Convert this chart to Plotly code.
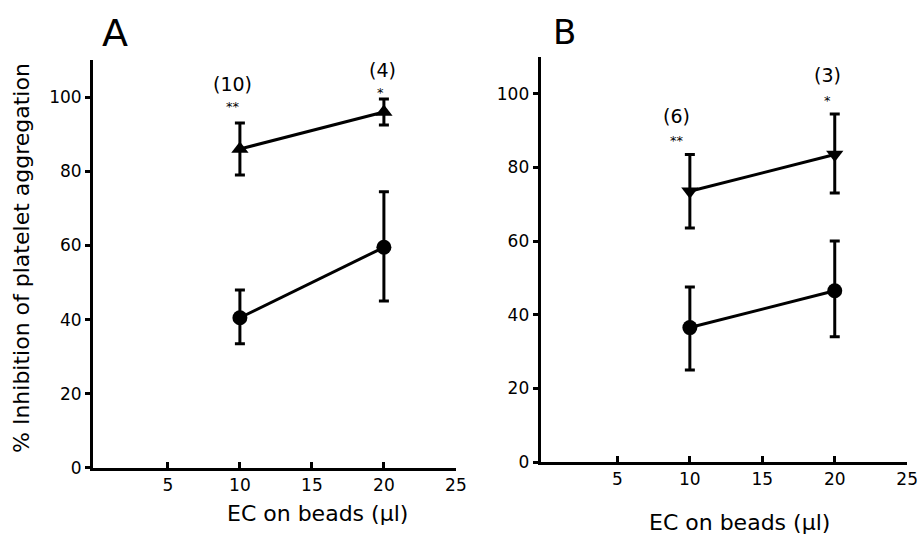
import plotly.graph_objects as go

# Data
x_vals = [10, 20]
# Panel A
a_tri = [86, 96]
a_tri_hi = [93, 99.5]
a_tri_lo = [79, 92.5]
a_circ = [40.5, 59.5]
a_circ_hi = [48, 74.5]
a_circ_lo = [33.5, 45]
a_n = ["(10)", "(4)"]
a_sig = ["**", "*"]
# Panel B
b_tri = [73.5, 83.5]
b_tri_hi = [83.5, 94.5]
b_tri_lo = [63.5, 73]
b_circ = [36.5, 46.5]
b_circ_hi = [47.5, 60]
b_circ_lo = [25, 34]
b_n = ["(6)", "(3)"]
b_sig = ["**", "*"]

x_ticks = [5, 10, 15, 20, 25]
y_ticks = [0, 20, 40, 60, 80, 100]

FONT = "DejaVu Sans, Liberation Sans, Arial, sans-serif"

def err(mean, hi, lo):
    return dict(type="data", symmetric=False,
                array=[h - m for h, m in zip(hi, mean)],
                arrayminus=[m - l for m, l in zip(mean, lo)],
                color="black", thickness=3, width=5)

fig = go.Figure()

def add_series(y, hi, lo, symbol, xa, ya):
    fig.add_trace(go.Scatter(
        x=x_vals, y=y, mode="lines+markers", xaxis=xa, yaxis=ya,
        line=dict(color="black", width=3),
        marker=dict(symbol=symbol, size=15, color="black"),
        error_y=err(y, hi, lo), showlegend=False, hoverinfo="skip"))

add_series(a_tri, a_tri_hi, a_tri_lo, "triangle-up", "x", "y")
add_series(a_circ, a_circ_hi, a_circ_lo, "circle", "x", "y")
add_series(b_tri, b_tri_hi, b_tri_lo, "triangle-down", "x2", "y2")
add_series(b_circ, b_circ_hi, b_circ_lo, "circle", "x2", "y2")

xcommon = dict(tickvals=x_ticks, ticks="inside", ticklen=6, automargin=False,
               tickwidth=3, tickcolor="black", showline=True, linecolor="black",
               linewidth=3, showgrid=False, zeroline=False,
               tickfont=dict(family=FONT, size=17, color="black"))
ycommon = dict(range=[0, 110], tickvals=y_ticks, ticks="outside", ticklen=5,
               automargin=False,
               tickwidth=3, tickcolor="black", showline=True, linecolor="black",
               linewidth=3, showgrid=False, zeroline=False,
               tickfont=dict(family=FONT, size=17, color="black"))

fig.update_layout(
    width=921, height=536,
    margin=dict(l=0, r=0, t=0, b=0, autoexpand=False),
    paper_bgcolor="white", plot_bgcolor="white",
    xaxis=dict(domain=[0.101, 0.495], anchor="y", range=[-0.2, 25], **xcommon),
    yaxis=dict(domain=[0.127, 0.888], anchor="x", **ycommon),
    xaxis2=dict(domain=[0.587, 0.985], anchor="y2", range=[-0.3, 25], **xcommon),
    yaxis2=dict(domain=[0.138, 0.894], anchor="x2", **ycommon),
)

anns = []
a_n_pos = [(9.5, 103.5), (19.9, 107.2)]
a_sig_pos = [(9.5, 97.5), (19.75, 101.3)]
b_n_pos = [(9.1, 93.9), (19.5, 105)]
b_sig_pos = [(9.1, 87.2), (19.5, 98.2)]
for i in range(len(x_vals)):
    anns.append(dict(x=a_n_pos[i][0], y=a_n_pos[i][1], xref="x", yref="y", text=a_n[i],
                     showarrow=False, font=dict(family=FONT, size=19, color="black")))
    anns.append(dict(x=a_sig_pos[i][0], y=a_sig_pos[i][1], xref="x", yref="y", text=a_sig[i],
                     showarrow=False, font=dict(family=FONT, size=13, color="black")))
    anns.append(dict(x=b_n_pos[i][0], y=b_n_pos[i][1], xref="x2", yref="y2", text=b_n[i],
                     showarrow=False, font=dict(family=FONT, size=19, color="black")))
    anns.append(dict(x=b_sig_pos[i][0], y=b_sig_pos[i][1], xref="x2", yref="y2", text=b_sig[i],
                     showarrow=False, font=dict(family=FONT, size=13, color="black")))

def paper_text(px, py, text, size, angle=0):
    return dict(x=px / 921, y=1 - py / 536, xref="paper", yref="paper", text=text,
                xanchor="center", yanchor="middle", showarrow=False, textangle=angle,
                font=dict(family=FONT, size=size, color="black"))

anns.append(paper_text(115, 33, "A", 38))
anns.append(paper_text(564, 32, "B", 34))
anns.append(paper_text(317, 513, "EC on beads (μl)", 22))
anns.append(paper_text(739, 522, "EC on beads (μl)", 22))
anns.append(paper_text(21, 258, "% Inhibition of platelet aggregation", 22, -90))

fig.update_layout(annotations=anns)
fig.write_html("out.html", config={"displayModeBar": False},
               post_script="document.body.style.margin='0';document.body.style.overflow='hidden';")
